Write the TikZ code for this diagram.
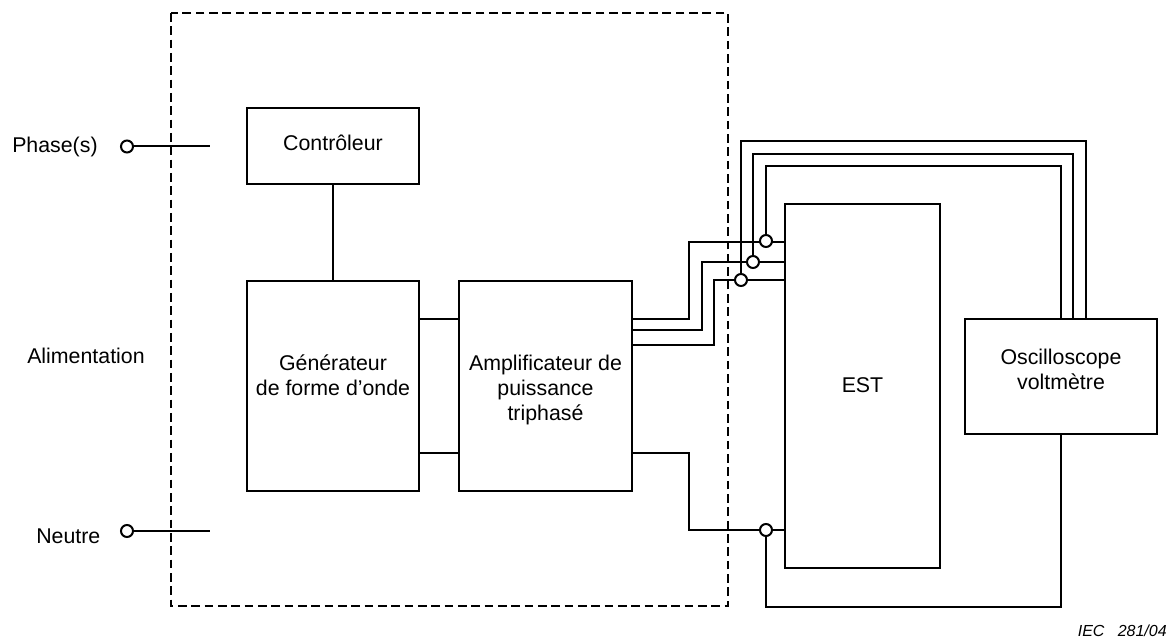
\documentclass[tikz,border=0pt]{standalone}
\usepackage{fontspec}
\setmainfont{Liberation Sans}
\usetikzlibrary{calc}
\tikzset{
  blockbox/.style={draw=black,line width=1.5pt,fill=none,inner sep=0pt,font=\fontsize{16}{18.4}\selectfont},
  txt/.style={inner sep=0pt,font=\fontsize{16}{18.4}\selectfont},
  wire/.style={draw=black,line width=1.5pt,line join=miter},
  term/.style={circle,draw=black,line width=1.5pt,fill=white,minimum size=9pt,inner sep=0pt},
}
% name, x, y, w, h, lift of first baseline above the box centre (px), text
\newcommand{\blk}[7]{\node[blockbox,minimum width=#4*0.75pt,minimum height=#5*0.75pt] (#1) at (#2,#3) {\raisebox{0.75\dimexpr #6pt\relax}[0pt][0pt]{\begin{tabular}[t]{@{}c@{}}#7\end{tabular}}};}
\begin{document}
\begin{tikzpicture}[x=0.75pt,y=-0.75pt]
\useasboundingbox (0,0) rectangle (1171,641);
% boundary
\draw[black,line width=1.6pt,dash pattern=on 6.5pt off 3.5pt] (171,13) rectangle (728,606);
% blocks
\blk{ctrl}{333}{146}{172}{76}{-5}{Contrôleur}
\blk{gen}{333}{386}{172}{210}{15}{Générateur\\de forme d’onde}
\blk{amp}{545.5}{386}{173}{210}{15}{Amplificateur de\\puissance\\triphasé}
\blk{est}{862.5}{386}{155}{364}{-7}{EST}
\blk{osc}{1061}{376.5}{192}{115}{11.5}{Oscilloscope\\voltmètre}
% labels
\node[txt,anchor=base west] (phase) at (12,152.5) {Phase(s)};
\node[txt,anchor=base west] (alim) at (27,364) {Alimentation};
\node[txt,anchor=base west] (neutre) at (36,543) {Neutre};
\node[anchor=base east,inner sep=0pt,font=\fontsize{12}{15}\selectfont\itshape] (iec) at (1167,636) {IEC\hspace{0.83em}281/04};
% terminals
\coordinate (pend) at (210,146.5);
\coordinate (nend) at (210,531);
\node[term] (pt) at (127,146.5) {};
\node[term] (nt) at (127,531) {};
\draw[wire] (pt) -- (pend);
\draw[wire] (nt) -- (nend);
% internal links
\draw[wire] (ctrl.south) -- (gen.north);
\draw[wire] (gen.east |- 0,319) -- (amp.west |- 0,319);
\draw[wire] (gen.east |- 0,453) -- (amp.west |- 0,453);
% amp to EST
\draw[wire] (amp.east |- 0,319) -| (689,242) -- (est.west |- 0,242);
\draw[wire] (amp.east |- 0,330) -| (702,262) -- (est.west |- 0,262);
\draw[wire] (amp.east |- 0,345) -| (714,280) -- (est.west |- 0,280);
\draw[wire] (amp.east |- 0,453) -| (689,530) -- (est.west |- 0,530);
% probes
\coordinate (pa) at (766,241);
\coordinate (pb) at (753,262);
\coordinate (pc) at (741,280);
\coordinate (pd) at (766,530);
\draw[wire] (pa) |- (1061,166) -- (osc.north -| 1061,0);
\draw[wire] (pb) |- (1073,154) -- (osc.north -| 1073,0);
\draw[wire] (pc) |- (1086,141) -- (osc.north -| 1086,0);
\draw[wire] (pd) |- (1061,607) -- (osc.south);
\node[term] (ca) at (pa) {};
\node[term] (cb) at (pb) {};
\node[term] (cc) at (pc) {};
\node[term] (cd) at (pd) {};
\end{tikzpicture}
\end{document}
